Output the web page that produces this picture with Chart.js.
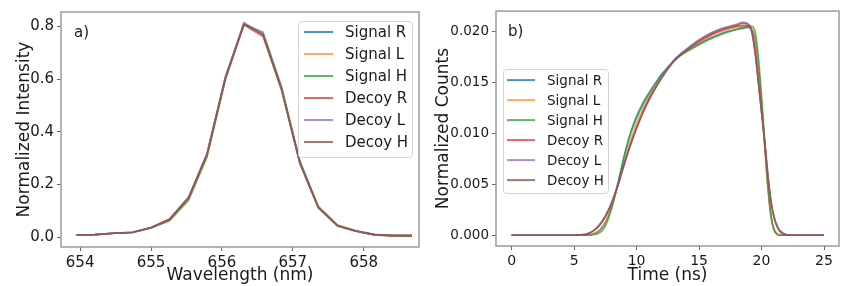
<!DOCTYPE html>
<html>
<head>
<meta charset="utf-8">
<script src="https://cdn.jsdelivr.net/npm/chart.js@4"></script>
<style>
  html, body { margin: 0; padding: 0; background: #fff; }
  #wrap { position: relative; width: 847px; height: 286px; }
  #left { position: absolute; left: 0; top: 0; }
  #right { position: absolute; left: 425px; top: 0; }
</style>
</head>
<body>
<div id="wrap">
  <canvas id="left" width="425" height="286"></canvas>
  <canvas id="right" width="422" height="286"></canvas>
</div>
<script>
// ---- data: panel a) spectra
const seriesNames = ["Signal R", "Signal L", "Signal H", "Decoy R", "Decoy L", "Decoy H"];
const wavelength = [653.95, 654.21, 654.48, 654.74, 655.00, 655.26, 655.53, 655.79, 656.05, 656.31,
  656.58, 656.84, 657.10, 657.36, 657.63, 657.89, 658.15, 658.41, 658.68];
const specSignalR = [0.009, 0.010, 0.015, 0.018, 0.036, 0.066, 0.148, 0.312, 0.604, 0.808, 0.772, 0.566, 0.284, 0.114, 0.044, 0.024, 0.010, 0.006, 0.006];
const specSignalL = [0.009, 0.010, 0.015, 0.018, 0.036, 0.065, 0.147, 0.311, 0.603, 0.809, 0.771, 0.567, 0.285, 0.115, 0.045, 0.024, 0.010, 0.006, 0.006];
const specSignalH = [0.009, 0.010, 0.015, 0.018, 0.035, 0.062, 0.140, 0.305, 0.598, 0.808, 0.779, 0.572, 0.290, 0.117, 0.046, 0.025, 0.011, 0.007, 0.007];
const specDecoyR = [0.009, 0.010, 0.015, 0.019, 0.037, 0.069, 0.153, 0.318, 0.610, 0.806, 0.762, 0.560, 0.280, 0.112, 0.043, 0.023, 0.009, 0.005, 0.005];
const specDecoyL = [0.009, 0.010, 0.016, 0.019, 0.037, 0.068, 0.152, 0.316, 0.608, 0.815, 0.770, 0.562, 0.281, 0.112, 0.044, 0.023, 0.009, 0.006, 0.006];
const specDecoyH = [0.009, 0.010, 0.015, 0.019, 0.036, 0.067, 0.150, 0.315, 0.606, 0.810, 0.768, 0.563, 0.282, 0.113, 0.044, 0.024, 0.010, 0.006, 0.006];
const wlTicks = [654, 655, 656, 657, 658];
const intensityTicks = [0, 0.2, 0.4, 0.6, 0.8];

// ---- data: panel b) time histograms
const times = [0, 1, 2, 3, 4, 5, 5.5, 6, 6.5, 7, 7.5, 8, 8.5, 9, 9.5, 10,
  10.5, 11, 11.5, 12, 12.5, 13, 13.5, 14, 15, 16, 17, 18, 18.5, 19,
  19.25, 19.5, 19.75, 20, 20.25, 20.5, 20.75, 21, 21.25, 21.5, 22, 23, 24, 25];
const timeSignalR = [0, 0, 0, 0, 0, 0, 0, 0.00002, 0.0001, 0.0004, 0.0012, 0.0028, 0.0051, 0.0077, 0.0099, 0.0115,
  0.0128, 0.0139, 0.0149, 0.0158, 0.0165, 0.0172, 0.0177, 0.0181, 0.0188, 0.0194, 0.0199, 0.0202, 0.0203, 0.0204,
  0.0202, 0.0192, 0.0166, 0.0130, 0.0089, 0.0049, 0.0019, 0.0005, 0.0001, 0, 0, 0, 0, 0];
const timeSignalL = [0, 0, 0, 0, 0, 0, 0, 0.00003, 0.00015, 0.0005, 0.0013, 0.0028, 0.0048, 0.0071, 0.0093, 0.0110,
  0.0124, 0.0136, 0.0147, 0.0156, 0.0164, 0.0171, 0.0177, 0.0182, 0.0189, 0.0196, 0.0201, 0.0204, 0.0205, 0.0205,
  0.0202, 0.0190, 0.0163, 0.0127, 0.0087, 0.0047, 0.0018, 0.0005, 0.0001, 0, 0, 0, 0, 0];
const timeSignalH = [0, 0, 0, 0, 0, 0, 0, 0, 0.00005, 0.0002, 0.0009, 0.0026, 0.0050, 0.0077, 0.0100, 0.0117,
  0.0130, 0.0140, 0.0149, 0.0157, 0.0164, 0.0171, 0.0176, 0.0180, 0.0187, 0.0193, 0.0198, 0.0202, 0.0204, 0.0205,
  0.0205, 0.0199, 0.0175, 0.0137, 0.0094, 0.0051, 0.0020, 0.0006, 0.0001, 0, 0, 0, 0, 0];
const timeDecoyR = [0, 0, 0, 0, 0, 0, 0.00003, 0.0001, 0.0004, 0.0009, 0.0018, 0.0031, 0.0049, 0.0070, 0.0089, 0.0106,
  0.0121, 0.0134, 0.0145, 0.0155, 0.0164, 0.0171, 0.0177, 0.0182, 0.0190, 0.0197, 0.0202, 0.0205, 0.0206, 0.0205,
  0.0198, 0.0178, 0.0150, 0.0121, 0.0092, 0.0059, 0.0033, 0.0017, 0.0008, 0.0003, 0.00005, 0, 0, 0];
const timeDecoyL = [0, 0, 0, 0, 0, 0, 0.00003, 0.0001, 0.0004, 0.0009, 0.0018, 0.0031, 0.0049, 0.0069, 0.0088, 0.0105,
  0.0120, 0.0133, 0.0145, 0.0155, 0.0164, 0.0172, 0.0178, 0.0183, 0.0192, 0.0199, 0.0204, 0.0207, 0.0209, 0.0207,
  0.0199, 0.0179, 0.0151, 0.0122, 0.0093, 0.0060, 0.0034, 0.0018, 0.0009, 0.0004, 0.00005, 0, 0, 0];
const timeDecoyH = [0, 0, 0, 0, 0, 0, 0.00004, 0.00012, 0.0004, 0.0010, 0.0019, 0.0032, 0.0049, 0.0069, 0.0088, 0.0105,
  0.0120, 0.0133, 0.0144, 0.0154, 0.0163, 0.0171, 0.0177, 0.0182, 0.0191, 0.0198, 0.0203, 0.0206, 0.0208, 0.0206,
  0.0198, 0.0178, 0.0150, 0.0121, 0.0092, 0.0060, 0.0034, 0.0018, 0.0009, 0.0004, 0.00005, 0, 0, 0];
const timeTicks = [0, 5, 10, 15, 20, 25];
const countTicks = [0, 0.005, 0.010, 0.015, 0.020];

const colors = ["rgba(31,119,180,0.8)", "rgba(255,127,14,0.65)", "rgba(44,160,44,0.75)",
  "rgba(214,39,40,0.7)", "rgba(148,103,189,0.75)", "rgba(140,86,75,0.8)"];

const FONT = "'DejaVu Sans', sans-serif";

function makeSets(xs, ys, tension) {
  return ys.map((arr, i) => ({
    label: seriesNames[i],
    data: arr.map((v, j) => ({ x: xs[j], y: v })),
    borderColor: colors[i],
    backgroundColor: colors[i],
    borderWidth: 1.6,
    pointRadius: 0,
    tension: tension,
    cubicInterpolationMode: tension ? "monotone" : "default",
    order: ys.length - i,
  }));
}

// frame box around plot area + panel tag
const framePlugin = {
  id: "frame",
  afterDraw(chart, args, o) {
    const { ctx, chartArea: a } = chart;
    ctx.save();
    ctx.strokeStyle = "#9a9a9a";
    ctx.lineWidth = 1.5;
    ctx.strokeRect(a.left, a.top, a.right - a.left, a.bottom - a.top);
    ctx.fillStyle = "#1a1a1a";
    ctx.font = "15px " + FONT;
    ctx.textBaseline = "alphabetic";
    ctx.fillText(o.tag, a.left + o.tagX, a.top + o.tagY);
    ctx.restore();
  },
};

// matplotlib-like legend inside the plot
const boxLegend = {
  id: "boxLegend",
  afterDraw(chart, args, o) {
    const { ctx, chartArea: a } = chart;
    const sets = chart.data.datasets;
    const h = o.padTop + o.rowH * (sets.length - 1) + o.padBottom;
    const x = o.left != null ? a.left + o.left : a.right - o.right - o.width;
    const y = a.top + o.top;
    ctx.save();
    ctx.fillStyle = "rgba(255,255,255,0.85)";
    ctx.strokeStyle = "#d4d4d4";
    ctx.lineWidth = 1;
    ctx.beginPath();
    ctx.roundRect(x + 0.5, y + 0.5, o.width, h, 3);
    ctx.fill();
    ctx.stroke();
    ctx.font = o.fontSize + "px " + FONT;
    ctx.textBaseline = "middle";
    sets.forEach((ds, i) => {
      const cy = y + o.padTop + i * o.rowH;
      ctx.strokeStyle = ds.borderColor;
      ctx.lineWidth = 2;
      ctx.beginPath();
      ctx.moveTo(x + o.lineX0, cy);
      ctx.lineTo(x + o.lineX1, cy);
      ctx.stroke();
      ctx.fillStyle = "#1a1a1a";
      ctx.fillText(ds.label, x + o.textX, cy + 1);
    });
    ctx.restore();
  },
};

function axisOpts(ticksArr, fmt, min, max, fontSize, extra) {
  return Object.assign({
    type: "linear",
    min: min,
    max: max,
    border: { display: false },
    grid: { drawOnChartArea: false, drawTicks: true, tickLength: 4, tickColor: "#666", lineWidth: 1 },
    ticks: { color: "#1a1a1a", font: { family: FONT, size: fontSize }, padding: 3, callback: (v) => fmt(v) },
    afterBuildTicks: (s) => { s.ticks = ticksArr.map((v) => ({ value: v })); },
  }, extra);
}

new Chart(document.getElementById("left").getContext("2d"), {
  type: "line",
  data: {
    datasets: makeSets(wavelength,
      [specSignalR, specSignalL, specSignalH, specDecoyR, specDecoyL, specDecoyH], 0),
  },
  options: {
    responsive: false,
    animation: false,
    layout: { padding: { top: 6, right: 6, left: 0, bottom: 0 } },
    plugins: {
      legend: { display: false },
      tooltip: { enabled: false },
      frame: { tag: "a)", tagX: 13, tagY: 25 },
      boxLegend: { right: 7, top: 9, width: 114, rowH: 22, padTop: 11, padBottom: 15,
        lineX0: 6, lineX1: 35, textX: 47, fontSize: 15 },
    },
    scales: {
      x: axisOpts(wlTicks, (v) => String(v), 653.73, 658.78, 15, {
        title: { display: true, text: "Wavelength (nm)", color: "#1a1a1a",
          font: { family: FONT, size: 17 }, padding: { top: 0, bottom: 0 } },
        afterFit: (s) => { s.height = 39; },
      }),
      y: axisOpts(intensityTicks, (v) => v.toFixed(1), -0.037, 0.855, 15, {
        title: { display: true, text: "Normalized Intensity", color: "#1a1a1a",
          font: { family: FONT, size: 17 }, padding: { top: 14 } },
        afterFit: (s) => { s.width = 61; },
      }),
    },
  },
  plugins: [framePlugin, boxLegend],
});

new Chart(document.getElementById("right").getContext("2d"), {
  type: "line",
  data: {
    datasets: makeSets(times,
      [timeSignalR, timeSignalL, timeSignalH, timeDecoyR, timeDecoyL, timeDecoyH], 0.3),
  },
  options: {
    responsive: false,
    animation: false,
    layout: { padding: { top: 6, right: 8, left: 0, bottom: 0 } },
    plugins: {
      legend: { display: false },
      tooltip: { enabled: false },
      frame: { tag: "b)", tagX: 12, tagY: 25 },
      boxLegend: { left: 7, top: 58, width: 105, rowH: 20, padTop: 11, padBottom: 13,
        lineX0: 4, lineX1: 32, textX: 44, fontSize: 13.5 },
    },
    scales: {
      x: axisOpts(timeTicks, (v) => String(v), -1.25, 26.2, 14, {
        title: { display: true, text: "Time (ns)", color: "#1a1a1a",
          font: { family: FONT, size: 17 }, padding: { top: 0, bottom: 0 } },
        afterFit: (s) => { s.height = 40; },
      }),
      y: axisOpts(countTicks, (v) => v.toFixed(3), -0.00106, 0.0220, 13.5, {
        title: { display: true, text: "Normalized Counts", color: "#1a1a1a",
          font: { family: FONT, size: 17 }, padding: { top: 8 } },
        afterFit: (s) => { s.width = 71; },
      }),
    },
  },
  plugins: [framePlugin, boxLegend],
});
</script>
</body>
</html>
